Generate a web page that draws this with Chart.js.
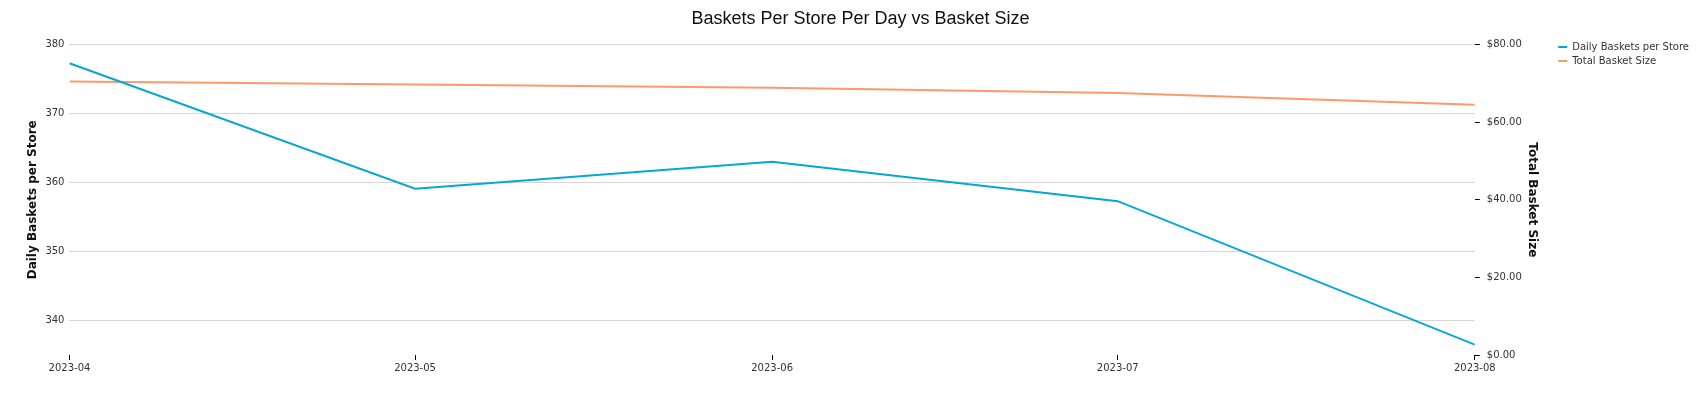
<!DOCTYPE html>
<html>
<head>
<meta charset="utf-8">
<script src="https://cdn.jsdelivr.net/npm/chart.js@4.4.1/dist/chart.umd.min.js"></script>
<style>
  html, body { margin: 0; padding: 0; background: #fff; }
  #wrap { width: 1707px; height: 401px; }
</style>
</head>
<body>
<div id="wrap"><canvas id="chart"></canvas></div>
<script>
const months = ['2023-04', '2023-05', '2023-06', '2023-07', '2023-08'];
const dailyBaskets = [377.3, 359.1, 363.0, 357.3, 336.5];
const basketSize = [70.5, 69.7, 68.9, 67.5, 64.5];
const leftTicks = [340, 350, 360, 370, 380];
const rightTicks = [0, 20, 40, 60, 80];

const DAY = 86400000;
const dayOf = m => Date.parse(m + '-01T00:00:00Z') / DAY;
const xs = months.map(dayOf);

const tickFont = { family: 'DejaVu Sans', size: 10 };
const titleFont = { family: 'DejaVu Sans', size: 12, weight: 'bold' };

new Chart(document.getElementById('chart'), {
    type: 'line',
    data: {
        datasets: [{
            label: 'Daily Baskets per Store',
            data: xs.map((x, i) => ({ x: x, y: dailyBaskets[i] })),
            borderColor: '#05a8d2',
            backgroundColor: '#05a8d2',
            borderWidth: 2,
            pointRadius: 0,
            pointStyle: 'line',
            tension: 0,
            yAxisID: 'y'
        }, {
            label: 'Total Basket Size',
            data: xs.map((x, i) => ({ x: x, y: basketSize[i] })),
            borderColor: '#fd9a6c',
            backgroundColor: '#fd9a6c',
            borderWidth: 2,
            pointRadius: 0,
            pointStyle: 'line',
            tension: 0,
            yAxisID: 'y1'
        }]
    },
    options: {
        responsive: true,
        maintainAspectRatio: false,
        animation: false,
        layout: { padding: { left: 22, right: 8, top: 8, bottom: 25 } },
        plugins: {
            title: {
                display: true,
                text: 'Baskets Per Store Per Day vs Basket Size',
                color: '#111',
                font: { family: 'Liberation Sans', size: 18, weight: 'normal' },
                padding: { top: 0, bottom: 15 }
            },
            legend: {
                position: 'right',
                align: 'start',
                title: { display: true, text: ' ', font: { size: 10 }, padding: { top: 0, bottom: 18 } },
                labels: {
                    usePointStyle: true,
                    pointStyleWidth: 9,
                    boxHeight: 8,
                    padding: 4,
                    color: '#333',
                    font: { family: 'DejaVu Sans', size: 10 }
                }
            },
            tooltip: { enabled: false }
        },
        scales: {
            x: {
                type: 'linear',
                min: xs[0],
                max: xs[xs.length - 1],
                afterBuildTicks: scale => { scale.ticks = xs.map(v => ({ value: v })); },
                ticks: {
                    color: '#333',
                    font: tickFont,
                    maxRotation: 0,
                    padding: 2,
                    callback: (v, i) => months[i]
                },
                grid: { drawOnChartArea: false, color: '#000', tickLength: 5 },
                border: { display: false }
            },
            y: {
                position: 'left',
                min: 335,
                max: 380,
                afterBuildTicks: scale => { scale.ticks = leftTicks.map(v => ({ value: v })); },
                ticks: { color: '#333', font: tickFont, padding: 5 },
                grid: { color: '#d6d6d6', drawTicks: false },
                border: { display: false },
                title: { display: true, text: 'Daily Baskets per Store', color: '#111', font: titleFont, padding: { bottom: 0 } }
            },
            y1: {
                position: 'right',
                min: 0,
                max: 80,
                afterBuildTicks: scale => { scale.ticks = rightTicks.map(v => ({ value: v })); },
                ticks: { color: '#333', font: tickFont, padding: 7, callback: v => '$' + v.toFixed(2) },
                grid: { drawOnChartArea: false, color: '#000', tickLength: 5 },
                border: { display: false },
                title: { display: true, text: 'Total Basket Size', color: '#111', font: titleFont, padding: { top: 15, bottom: -4 } }
            }
        }
    }
});
</script>
</body>
</html>
